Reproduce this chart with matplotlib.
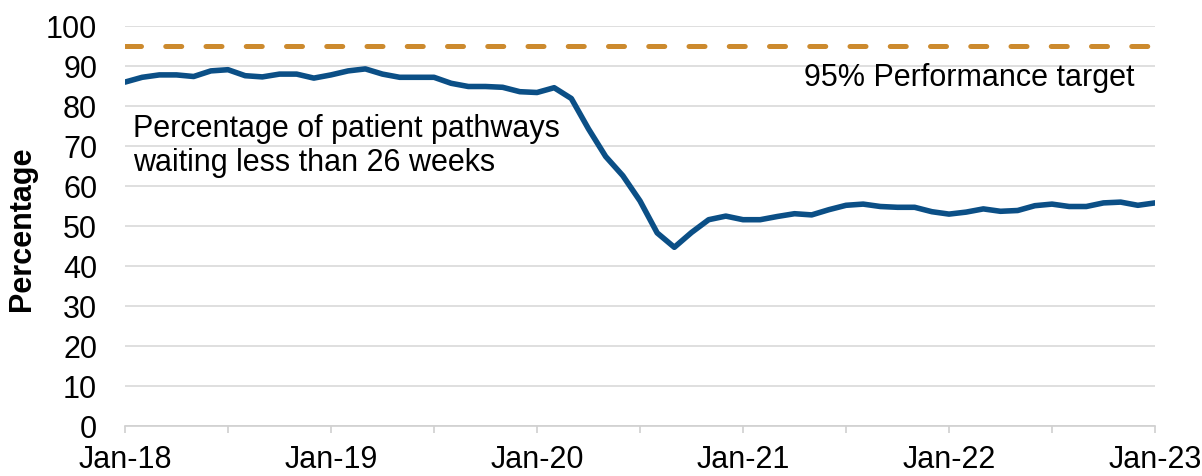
import matplotlib
matplotlib.use("Agg")
import matplotlib.pyplot as plt

# Monthly values Jan-18 .. Jan-23 (61 points)
values = [
    85.9, 87.1, 87.7, 87.7, 87.3, 88.7, 89.0, 87.5, 87.2, 87.9, 87.9, 86.9,   # 2018
    87.7, 88.7, 89.2, 87.9, 87.1, 87.1, 87.1, 85.6, 84.8, 84.8, 84.6, 83.5,   # 2019
    83.3, 84.5, 81.8, 74.2, 67.3, 62.5, 56.2, 48.2, 44.6, 48.3, 51.5, 52.4,   # 2020
    51.5, 51.5, 52.3, 53.0, 52.7, 54.0, 55.1, 55.4, 54.8, 54.6, 54.6, 53.5,   # 2021
    52.9, 53.4, 54.2, 53.6, 53.8, 55.0, 55.4, 54.8, 54.8, 55.7, 55.9, 55.1,   # 2022
    55.7,                                                                     # Jan-23
]
target = 95
x_tick_labels = ["Jan-18", "Jan-19", "Jan-20", "Jan-21", "Jan-22", "Jan-23"]
y_ticks = list(range(0, 101, 10))

plt.rcParams['font.family'] = ['Liberation Sans', 'DejaVu Sans']

fig = plt.figure(figsize=(12.02, 4.77), dpi=100)
ax = fig.add_axes([125 / 1202, 1 - 426.7 / 477, 1030 / 1202, 400 / 477])

months = list(range(len(values)))
ax.plot(months, values, color="#0B4F86", lw=4.0, solid_joinstyle="round",
        solid_capstyle="round", zorder=3)
ax.plot([0, len(values) - 1], [target, target], color="#CC8A2E", lw=3.6,
        dashes=(3.2, 4.85), dash_capstyle="round", zorder=3)

ax.set_xlim(0, len(values) - 1)
ax.set_ylim(0, 100)
ax.set_yticks(y_ticks)
ax.set_xticks(range(0, len(values), 12))
ax.set_xticklabels(x_tick_labels)
ax.set_xticks(range(0, len(values), 6), minor=True)

ax.grid(axis="y", color="#D9D9D9", lw=1.2, zorder=0)
ax.set_axisbelow(True)
for s in ["top", "right", "left"]:
    ax.spines[s].set_visible(False)
ax.spines["bottom"].set_color("#D0D0D0")
ax.spines["bottom"].set_linewidth(1.2)

ax.tick_params(axis="y", length=0, pad=20, labelsize=22, labelcolor="#000000")
ax.tick_params(axis="x", which="both", length=5, width=1.2, color="#D0D0D0",
               direction="out", pad=8, labelsize=22)

ax.text(58.8, 87.2, "95% Performance target", ha="right", va="center", fontsize=22)
ax.text(0.45, 70.2, "Percentage of patient pathways\nwaiting less than 26 weeks",
        ha="left", va="center", fontsize=22, linespacing=1.2)

fig.text(22 / 1202, 1 - 229 / 477, "Percentage", rotation=90, ha="center", va="center",
         fontsize=22, fontweight="bold")

fig.savefig("out.png", dpi=100)
